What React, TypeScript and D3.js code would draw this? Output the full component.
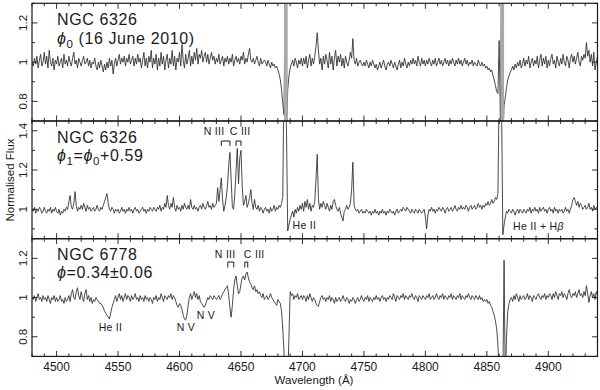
import React from "react";
import * as d3 from "d3";

// ---------------- DATA ----------------
const WL_START = 4480;
const WL_END = 4940;
const X_MAJOR = [4500, 4550, 4600, 4650, 4700, 4750, 4800, 4850, 4900];

// NGC 6326, phase phi0 (1 A sampling from 4480)
const fluxP1 = [
  1.00, 0.98, 1.02, 0.99, 1.03, 0.97, 1.01, 1.04, 0.98, 1.00,
  1.05, 0.99, 1.03, 0.97, 1.06, 1.00, 0.98, 1.02, 0.96, 1.01,
  0.99, 1.03, 0.98, 1.00, 1.02, 0.97, 1.04, 0.99, 1.01, 0.98,
  1.03, 1.00, 0.98, 1.02, 1.05, 0.99, 1.01, 0.97, 1.02, 1.00,
  0.98, 1.01, 1.03, 0.99, 1.00, 1.02, 0.98, 1.01, 0.97, 1.00,
  0.99, 1.02, 0.98, 0.96, 1.00, 0.97, 1.01, 0.98, 0.95, 0.99,
  0.96, 1.00, 0.97, 1.02, 0.98, 1.01, 0.94, 0.99, 1.02, 0.98,
  1.01, 1.04, 0.99, 1.02, 1.00, 1.03, 0.98, 1.02, 1.00, 1.04,
  0.99, 1.01, 1.03, 0.98, 1.02, 0.99, 1.04, 1.00, 1.02, 0.97,
  1.01, 1.05, 0.98, 1.02, 0.97, 1.03, 1.00, 1.06, 0.97, 1.02,
  0.99, 1.04, 0.96, 1.02, 0.98, 1.05, 0.99, 1.03, 0.96, 1.01,
  1.04, 0.97, 1.02, 0.99, 1.06, 0.98, 1.03, 0.96, 1.02, 1.00,
  1.05, 0.98, 1.09, 1.01, 0.97, 1.04, 0.99, 1.02, 1.06, 0.98,
  1.03, 0.99, 1.05, 1.01, 1.07, 0.99, 1.04, 1.02, 1.06, 1.00,
  1.03, 1.05, 1.00, 1.04, 0.99, 1.02, 1.05, 1.01, 1.03, 0.99,
  1.02, 1.00, 1.04, 0.99, 1.01, 1.03, 0.98, 1.02, 1.00, 1.03,
  0.99, 1.02, 1.00, 1.04, 0.98, 1.01, 1.03, 1.00, 1.02, 0.99,
  1.03, 1.01, 1.05, 0.99, 1.02, 1.00, 1.04, 1.07, 1.01, 1.00,
  1.02, 0.99, 1.01, 1.03, 1.00, 0.98, 1.02, 0.99, 1.00, 1.01,
  1.00, 0.98, 1.01, 0.99, 0.97, 1.00, 0.98, 0.99, 0.97, 0.98,
  0.96, 0.94, 0.91, 0.86, 0.79, 0.73, 1.50, 0.60, 0.86, 0.93,
  0.97, 0.99, 1.01, 0.98, 1.02, 1.00, 0.97, 1.01, 0.99, 1.02,
  0.98, 1.02, 0.99, 1.03, 0.97, 1.01, 1.04, 0.98, 1.02, 0.99,
  1.03, 1.08, 1.15, 1.06, 0.99, 1.02, 0.96, 1.03, 0.99, 1.04,
  1.01, 0.97, 1.05, 0.99, 1.03, 0.96, 1.02, 1.06, 0.98, 1.03,
  1.00, 1.04, 0.98, 1.02, 0.97, 1.03, 1.00, 0.98, 1.01, 1.05,
  1.02, 1.12, 1.01, 0.99, 1.02, 0.98, 1.00, 1.01, 0.99, 0.98,
  1.00, 0.98, 1.01, 0.99, 0.97, 1.00, 0.98, 1.01, 0.99, 0.97,
  0.99, 0.96, 0.98, 1.00, 0.97, 0.99, 1.01, 0.98, 0.96, 0.99,
  1.00, 0.98, 1.01, 0.99, 0.97, 1.00, 0.98, 0.96, 0.99, 1.01,
  0.97, 1.00, 0.98, 1.02, 0.99, 0.97, 1.00, 0.98, 1.01, 0.99,
  1.02, 0.99, 1.01, 0.98, 1.03, 1.00, 0.98, 1.02, 0.99, 1.01,
  0.98, 1.01, 0.99, 1.02, 1.00, 0.98, 1.01, 0.99, 1.02, 0.98,
  1.00, 1.02, 0.99, 1.01, 0.98, 1.00, 1.02, 0.99, 1.01, 0.98,
  1.01, 0.99, 1.02, 1.00, 0.98, 1.01, 0.99, 1.02, 0.99, 1.01,
  0.98, 1.00, 1.02, 0.99, 1.01, 0.98, 1.00, 0.99, 1.01, 0.98,
  1.00, 0.99, 0.98, 1.01, 0.99, 0.98, 1.00, 0.98, 0.99, 0.97,
  0.98, 0.96, 0.97, 0.95, 0.96, 0.93, 0.91, 0.88, 0.85, 0.84,
  1.11, 0.70, 1.50, 0.60, 0.78, 0.82, 0.87, 0.91, 0.93, 0.95,
  0.96, 0.98, 0.96, 0.99, 0.97, 1.00, 0.98, 1.01, 0.97, 0.99,
  1.02, 0.98, 1.01, 0.99, 1.03, 0.97, 1.00, 1.02, 0.98, 1.01,
  0.99, 1.03, 0.97, 1.01, 1.04, 0.98, 1.02, 0.99, 1.03, 0.97,
  1.01, 0.98, 1.02, 1.04, 0.99, 1.01, 0.97, 1.03, 1.00, 0.98,
  1.02, 0.99, 1.04, 1.00, 0.98, 1.03, 1.01, 0.97, 1.02, 1.04,
  1.00, 1.03, 0.99, 1.02, 1.05, 1.00, 0.98, 1.03, 1.01, 1.04,
  1.02, 1.10, 1.03, 1.06, 1.00, 1.04, 0.98, 1.05, 0.96, 1.00,
  1.03,
];

// NGC 6326, phase phi1 = phi0 + 0.59
const fluxP2 = [
  1.00, 0.99, 1.01, 0.98, 1.00, 0.99, 1.01, 1.00, 0.98, 0.99,
  1.01, 0.99, 0.98, 1.00, 0.99, 1.01, 0.98, 1.00, 0.99, 1.01,
  0.99, 0.98, 1.00, 0.97, 0.99, 0.98, 1.00, 0.99, 1.01, 1.00,
  1.04, 1.07, 1.01, 1.00, 1.03, 1.09, 1.02, 0.99, 1.01, 1.00,
  1.02, 1.00, 1.03, 1.01, 0.99, 1.02, 1.00, 1.01, 0.99, 1.00,
  1.01, 0.99, 1.00, 1.02, 1.00, 0.99, 1.01, 1.00, 1.02, 1.04,
  1.06, 1.08, 1.03, 1.00, 0.99, 1.01, 1.00, 0.98, 1.00, 0.99,
  1.00, 0.98, 0.99, 1.01, 0.99, 1.00, 0.98, 1.00, 0.99, 1.01,
  0.99, 1.00, 0.98, 1.00, 1.01, 0.99, 1.00, 0.98, 0.99, 1.00,
  1.01, 0.99, 1.00, 0.98, 1.00, 0.99, 1.01, 1.00, 0.99, 1.01,
  1.00, 0.99, 1.01, 1.00, 1.02, 0.99, 1.01, 1.00, 1.03, 1.01,
  1.07, 1.02, 1.00, 1.03, 1.01, 1.06, 1.01, 0.99, 1.02, 1.00,
  1.01, 0.99, 1.02, 1.00, 1.03, 1.01, 1.00, 1.02, 1.00, 1.05,
  1.01, 1.00, 1.02, 1.00, 1.01, 0.99, 1.01, 1.02, 1.00, 1.03,
  1.01, 1.00, 1.02, 1.04, 1.01, 1.02, 1.00, 1.03, 1.01, 1.02,
  1.03, 1.11, 1.04, 1.10, 1.16, 1.05, 0.99, 1.02, 1.06, 1.12,
  1.22, 1.29, 1.15, 1.01, 1.00, 1.08, 1.20, 1.31, 1.13, 1.26,
  1.30, 1.12, 1.02, 1.04, 1.07, 1.01, 1.03, 1.06, 1.10, 1.03,
  1.00, 1.05, 1.01, 1.00, 1.02, 0.99, 1.01, 1.00, 0.98, 1.00,
  1.01, 0.99, 1.00, 0.98, 1.01, 0.99, 1.00, 1.02, 0.99, 1.01,
  1.00, 1.02, 1.01, 1.03, 1.06, 1.70, 1.70, 1.40, 0.89, 0.92,
  0.95, 0.97, 0.99, 0.96, 1.00, 0.98, 1.01, 0.99, 1.02, 1.00,
  1.03, 0.99, 1.04, 1.01, 1.05, 1.00, 1.03, 0.99, 1.02, 1.01,
  1.04, 1.15, 1.28, 1.05, 1.00, 1.03, 1.01, 1.04, 1.02, 1.00,
  1.03, 1.01, 0.99, 1.02, 1.00, 1.04, 1.05, 1.02, 1.00, 0.99,
  1.01, 0.98, 0.96, 0.94, 0.99, 1.00, 1.02, 1.00, 1.01, 1.03,
  1.10, 1.24, 1.02, 1.00, 0.99, 1.00, 0.98, 0.99, 1.00, 0.98,
  0.99, 0.98, 1.00, 0.99, 0.98, 0.99, 0.97, 0.99, 0.98, 1.00,
  0.98, 0.99, 0.97, 0.99, 0.98, 1.00, 0.98, 0.99, 0.97, 0.99,
  0.98, 1.00, 0.99, 0.98, 0.99, 0.97, 0.99, 1.00, 0.98, 0.99,
  1.00, 0.99, 1.01, 1.00, 0.99, 1.01, 1.00, 0.99, 0.98, 1.00,
  0.99, 0.98, 1.00, 0.99, 0.98, 1.00, 0.99, 0.98, 0.99, 1.00,
  0.96, 0.90, 0.97, 1.00, 0.99, 1.01, 0.99, 1.00, 0.98, 1.00,
  0.99, 1.01, 1.00, 0.99, 1.01, 1.00, 0.98, 1.00, 1.01, 0.99,
  1.00, 1.01, 0.99, 1.00, 1.02, 1.00, 0.99, 1.01, 1.00, 1.02,
  1.00, 1.01, 1.00, 1.02, 1.01, 0.99, 1.01, 1.02, 1.00, 1.01,
  1.02, 1.00, 1.01, 1.03, 1.01, 1.02, 1.00, 1.02, 1.01, 1.03,
  1.02, 1.04, 1.02, 1.03, 1.05, 1.03, 1.04, 1.06, 1.05, 1.08,
  1.60, 1.70, 1.50, 0.87, 0.92, 0.96, 0.99, 0.98, 1.00, 0.99,
  0.98, 1.00, 0.99, 0.97, 0.99, 1.00, 0.98, 1.00, 0.99, 0.98,
  1.00, 0.99, 0.98, 1.00, 0.99, 1.01, 0.98, 1.00, 0.99, 1.01,
  0.99, 1.00, 0.98, 1.01, 0.99, 1.00, 1.01, 0.99, 1.00, 0.98,
  1.00, 1.01, 0.99, 1.00, 0.98, 1.01, 0.99, 1.00, 0.98, 1.00,
  0.99, 1.00, 0.98, 0.99, 1.01, 0.99, 1.00, 0.98, 1.00, 1.02,
  1.05, 1.06, 1.04, 1.02, 1.04, 1.01, 1.03, 1.02, 1.00, 1.01,
  1.02, 1.00, 1.01, 1.03, 1.00, 1.01, 0.99, 1.02, 1.00, 1.01,
  1.00,
];

// NGC 6778
const fluxP3 = [
  1.00, 0.99, 1.01, 0.98, 1.00, 1.02, 0.99, 1.00, 0.98, 1.01,
  0.99, 1.00, 0.98, 1.01, 0.99, 0.97, 1.00, 0.99, 1.01, 0.98,
  1.00, 0.98, 0.99, 1.01, 0.98, 0.99, 0.97, 1.00, 0.98, 0.99,
  1.01, 0.98, 1.02, 1.04, 1.00, 0.99, 1.03, 1.05, 1.01, 0.99,
  1.03, 1.00, 0.98, 1.02, 1.04, 0.99, 1.01, 0.98, 1.00, 0.97,
  0.99, 0.98, 1.00, 0.99, 0.98, 0.97, 0.97, 0.96, 0.95, 0.93,
  0.92, 0.91, 0.90, 0.89, 0.92, 0.95, 0.97, 0.99, 1.01, 0.98,
  1.00, 1.02, 0.99, 1.01, 0.98, 1.00, 1.02, 0.99, 1.01, 1.00,
  0.98, 1.01, 0.99, 1.00, 1.02, 0.99, 1.00, 0.98, 1.01, 0.99,
  1.00, 0.98, 1.01, 0.99, 1.00, 0.98, 1.00, 0.99, 0.97, 1.00,
  0.99, 1.01, 0.98, 1.00, 0.99, 1.02, 1.00, 0.98, 1.01, 1.00,
  0.99, 1.01, 1.00, 1.02, 0.99, 1.01, 1.00, 0.98, 0.96, 0.95,
  0.97, 0.96, 0.94, 0.91, 0.89, 0.885, 0.91, 0.96, 1.00, 1.02,
  0.99, 1.01, 1.03, 1.00, 1.02, 0.99, 1.01, 0.98, 0.97, 0.96,
  0.95, 0.96, 0.98, 1.00, 0.99, 1.01, 1.00, 0.99, 1.01, 1.00,
  0.99, 1.00, 1.01, 0.99, 1.00, 1.02, 1.03, 1.04, 1.05, 1.06,
  1.01, 0.95, 0.90, 0.96, 1.04, 1.09, 1.11, 1.06, 1.02, 1.03,
  1.07, 1.10, 1.11, 1.09, 1.12, 1.13, 1.10, 1.08, 1.07, 1.05,
  1.04, 1.06, 1.03, 1.04, 1.02, 1.03, 1.01, 1.00, 1.02, 0.99,
  1.00, 1.01, 0.99, 1.00, 1.02, 1.00, 0.99, 0.98, 0.97, 0.96,
  0.99, 0.98, 0.97, 0.93, 0.84, 0.72, 0.55, 0.50, 0.58, 0.80,
  1.03, 1.01, 1.02, 0.99, 1.01, 1.00, 1.02, 0.99, 1.00, 1.01,
  0.99, 1.01, 1.00, 0.98, 1.01, 0.99, 1.02, 1.00, 0.98, 1.00,
  0.99, 0.97, 0.96, 0.955, 0.98, 1.00, 1.01, 0.99, 1.00, 0.98,
  1.00, 0.99, 1.01, 0.98, 1.00, 0.99, 0.97, 1.00, 0.98, 0.99,
  1.00, 0.98, 0.99, 1.01, 0.99, 0.98, 1.00, 0.99, 0.97, 0.99,
  0.98, 1.00, 0.99, 0.97, 0.99, 1.00, 0.98, 0.99, 1.01, 0.99,
  0.98, 1.00, 0.99, 1.01, 0.98, 1.00, 0.99, 0.98, 1.00, 0.99,
  1.01, 0.99, 1.00, 0.98, 1.00, 1.01, 0.99, 1.00, 0.98, 1.00,
  0.99, 1.01, 1.00, 0.99, 1.02, 1.00, 0.98, 1.01, 1.00, 0.99,
  1.01, 1.00, 1.02, 0.99, 1.01, 1.00, 0.99, 1.01, 1.00, 1.02,
  1.00, 0.99, 1.01, 1.00, 0.98, 1.01, 1.00, 0.99, 1.01, 1.00,
  0.99, 1.01, 1.00, 1.02, 0.99, 1.00, 1.01, 0.99, 1.00, 1.02,
  1.00, 0.99, 1.01, 1.00, 1.02, 0.99, 1.01, 1.00, 0.99, 1.01,
  1.00, 1.02, 0.99, 1.01, 1.00, 0.99, 1.01, 1.00, 1.02, 0.99,
  1.01, 1.00, 0.99, 1.01, 1.00, 1.02, 1.00, 0.99, 1.01, 1.00,
  0.99, 1.01, 1.00, 0.99, 1.01, 0.99, 1.00, 0.98, 0.99, 0.98,
  0.99, 0.97, 0.98, 0.96, 0.95, 0.93, 0.91, 0.88, 0.84, 0.76,
  0.60, 0.52, 0.50, 0.55, 1.19, 0.55, 0.80, 0.93, 0.97, 0.99,
  1.00, 0.98, 1.01, 0.99, 1.02, 1.00, 0.98, 1.01, 0.99, 1.00,
  1.01, 0.99, 1.00, 1.02, 0.99, 1.01, 1.00, 0.98, 1.01, 1.00,
  0.99, 1.01, 1.02, 1.00, 0.99, 1.01, 1.00, 1.02, 0.99, 1.01,
  1.00, 1.02, 1.01, 0.99, 1.02, 1.00, 1.03, 1.01, 0.99, 1.02,
  1.01, 1.03, 1.00, 1.02, 1.01, 0.99, 1.02, 1.04, 1.01, 1.00,
  1.02, 1.01, 1.03, 1.00, 1.02, 1.04, 1.01, 1.02, 1.00, 1.03,
  1.01, 1.06, 1.02, 0.975, 1.01, 1.03, 1.00, 1.02, 0.99, 1.03,
  1.01,
];

const spectra = [fluxP1, fluxP2, fluxP3];
const yDomains = [[0.7, 1.3], [0.85, 1.45], [0.7, 1.3]];
const yLabelTicks = [[0.8, 1, 1.2], [1, 1.2, 1.4], [0.8, 1, 1.2]];
// wavelength ranges shown as grey (saturated) bands
const maskRanges = [[[4685, 4688], [4861, 4864]], [], []];

const objectNames = ["NGC 6326", "NGC 6326", "NGC 6778"];

// annotations: [text, start wavelength, flux baseline]
const annotP2 = [
  ["N III", 4619.7, 1.379],
  ["C III", 4640.9, 1.379],
  ["He II", 4692.0, 0.897],
];
const bracketsP2 = [[4634, 4641, 1.348, 1.323], [4646, 4650, 1.348, 1.323]];
const annotP3 = [
  ["N III", 4628.7, 1.202],
  ["C III", 4652.3, 1.202],
  ["He II", 4534.2, 0.830],
  ["N V", 4597.7, 0.830],
  ["N V", 4614.0, 0.891],
];
const bracketsP3 = [[4639.3, 4644.1, 1.181, 1.153], [4653.1, 4655.5, 1.181, 1.153]];

// ---------------- LAYOUT ----------------
const W = 600, H = 390;
const LEFT = 32, RIGHT = 597.5;
const PANEL_TOPS = [3.3, 121, 238.7];
const PANEL_H = 117.7;
const FONT = "'Liberation Sans', Arial, Helvetica, sans-serif";
const INK = "#1a1a1a";

export default function App() {
  const x = d3.scaleLinear().domain([WL_START, WL_END]).range([LEFT, RIGHT]);
  const minorX = d3.range(WL_START, WL_END + 1, 10);
  const wl = d3.range(WL_START, WL_END + 1, 1);

  const panels = spectra.map((flux, i) => {
    const top = PANEL_TOPS[i];
    const bottom = top + PANEL_H;
    const y = d3.scaleLinear().domain(yDomains[i]).range([bottom, top]);
    const pts = flux.map((f, k) => [wl[k], f] as [number, number]);
    const line = d3.line<[number, number]>().x((d) => x(d[0])).y((d) => y(d[1]));
    const yTicks = d3.range(Math.ceil(yDomains[i][0] * 10 - 1e-6), Math.floor(yDomains[i][1] * 10 + 1e-6) + 1).map((v) => v / 10);
    const isMajorY = (v: number) => yLabelTicks[i].some((t) => Math.abs(t - v) < 1e-6);
    return { i, top, bottom, y, pts, line, yTicks, isMajorY };
  });

  const renderAnnot = (p: any, anns: any[], brackets: any[]) => (
    <g fontFamily={FONT} fontSize={10.5} fill={INK}>
      {anns.map((a, k) => (
        <text key={k} x={x(a[1])} y={p.y(a[2])} letterSpacing={0.3}>{a[0]}</text>
      ))}
      {brackets.map((b, k) => (
        <path
          key={"b" + k}
          d={`M${x(b[0])},${p.y(b[3])}V${p.y(b[2])}H${x(b[1])}V${p.y(b[3])}`}
          fill="none"
          stroke={INK}
          strokeWidth={1}
        />
      ))}
    </g>
  );

  return (
    <svg width={W} height={H} style={{ position: "absolute", left: 0, top: 0, background: "#fff" }}>
      <defs>
        {panels.map((p) => (
          <clipPath id={"clip" + p.i} key={p.i}>
            <rect x={LEFT} y={p.top} width={RIGHT - LEFT} height={PANEL_H} />
          </clipPath>
        ))}
      </defs>
      {panels.map((p) => (
        <g key={p.i}>
          <g clipPath={`url(#clip${p.i})`}>
            <path d={p.line(p.pts) || ""} fill="none" stroke="#2a2a2a" strokeWidth={0.85} strokeLinejoin="round" />
            {maskRanges[p.i].map((m, k) => (
              <rect key={k} x={x(m[0])} y={p.top} width={x(m[1]) - x(m[0])} height={PANEL_H} fill="#a9a9a9" />
            ))}
          </g>
          {/* frame */}
          <rect x={LEFT} y={p.top} width={RIGHT - LEFT} height={PANEL_H} fill="none" stroke={INK} strokeWidth={1.2} />
          {/* x ticks top & bottom */}
          {minorX.map((v) => {
            const len = v % 50 === 0 ? 5.5 : 3;
            return (
              <g key={v} stroke={INK} strokeWidth={0.9}>
                <line x1={x(v)} x2={x(v)} y1={p.bottom} y2={p.bottom - len} />
                <line x1={x(v)} x2={x(v)} y1={p.top} y2={p.top + len} />
              </g>
            );
          })}
          {/* y ticks left & right */}
          {p.yTicks.map((v) => {
            const len = p.isMajorY(v) ? 5.5 : 3;
            return (
              <g key={v} stroke={INK} strokeWidth={0.9}>
                <line x1={LEFT} x2={LEFT + len} y1={p.y(v)} y2={p.y(v)} />
                <line x1={RIGHT} x2={RIGHT - len} y1={p.y(v)} y2={p.y(v)} />
              </g>
            );
          })}
          {yLabelTicks[p.i].map((v) => (
            <text
              key={v}
              transform={`translate(27,${p.y(v)}) rotate(-90)`}
              textAnchor="middle"
              fontFamily={FONT}
              fontSize={11.5}
              fill={INK}
            >
              {String(v)}
            </text>
          ))}
          {/* object name */}
          <text x={57} y={p.top + 21.7} fontFamily={FONT} fontSize={16} letterSpacing={0.6} fill={INK}>
            {objectNames[p.i]}
          </text>
        </g>
      ))}

      {/* phase labels */}
      <g fontFamily={FONT} fontSize={16} fill={INK} letterSpacing={0.6}>
        <text x={57} y={PANEL_TOPS[0] + 40.5}>
          <tspan fontStyle="italic">ϕ</tspan>
          <tspan fontSize={11.5} dy={4}>0</tspan>
          <tspan dy={-4}>{"  (16 June 2010)"}</tspan>
        </text>
        <text x={57} y={PANEL_TOPS[1] + 39.5}>
          <tspan fontStyle="italic">ϕ</tspan>
          <tspan fontSize={11.5} dy={4}>1</tspan>
          <tspan dy={-4}>=</tspan>
          <tspan fontStyle="italic">ϕ</tspan>
          <tspan fontSize={11.5} dy={4}>0</tspan>
          <tspan dy={-4}>+0.59</tspan>
        </text>
        <text x={57} y={PANEL_TOPS[2] + 39.5}>
          <tspan fontStyle="italic">ϕ</tspan>
          <tspan>=0.34±0.06</tspan>
        </text>
      </g>

      {renderAnnot(panels[1], annotP2, bracketsP2)}
      <text x={x(4871.3)} y={panels[1].y(0.894)} fontFamily={FONT} fontSize={10.5} fill={INK} letterSpacing={0.3}>
        He II + H<tspan fontStyle="italic">β</tspan>
      </text>
      {renderAnnot(panels[2], annotP3, bracketsP3)}

      {/* x tick labels */}
      {X_MAJOR.map((v) => (
        <text key={v} x={x(v)} y={370.5} textAnchor="middle" fontFamily={FONT} fontSize={12} fill={INK}>
          {v}
        </text>
      ))}
      <text x={314} y={384} textAnchor="middle" fontFamily={FONT} fontSize={11.5} fill={INK}>
        Wavelength (Å)
      </text>
      <text transform="translate(14,180) rotate(-90)" textAnchor="middle" fontFamily={FONT} fontSize={11.5} fill={INK}>
        Normalised Flux
      </text>
    </svg>
  );
}
